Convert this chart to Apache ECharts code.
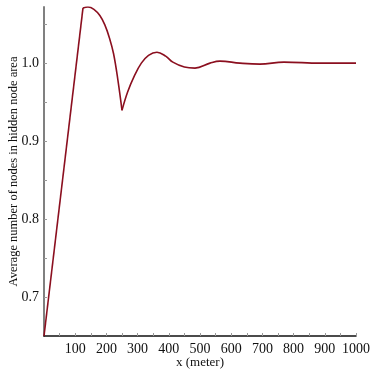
<!DOCTYPE html>
<html>
<head>
<meta charset="utf-8">
<script src="https://cdn.jsdelivr.net/npm/echarts@6/dist/echarts.min.js"></script>
<style>
  html, body { margin: 0; padding: 0; background: #fff; }
  #chart { width: 374px; height: 374px; }
</style>
</head>
<body>
<div id="chart"></div>
<script>
// x (meter), y (average number of nodes)
const risePts = [[0, 0.650], [125, 1.0708]]
const fallPts = [[125, 1.0708], [141, 1.072], [160, 1.069], [179, 1.061], [195, 1.049], [210, 1.032], [223, 1.012], [237, 0.978], [250, 0.9395]]
const tailPts = [
  [250, 0.9395], [268, 0.963], [290, 0.984], [312, 1.000], [335, 1.010], [362, 1.014],
  [390, 1.009], [413, 1.0013], [450, 0.995], [484, 0.9936], [532, 1.0], [564, 1.0026],
  [628, 1.0], [692, 0.9987], [769, 1.0013], [885, 1.0], [1000, 1.0]
]
const xLabels = [100, 200, 300, 400, 500, 600, 700, 800, 900, 1000]
const xTicks = [50, 100, 150, 200, 250, 300, 350, 400, 450, 500, 550, 600, 650, 700, 750, 800, 850, 900, 950, 1000]
const yLabels = [0.7, 0.8, 0.9, 1.0]
const yTicks = [0.7, 0.75, 0.8, 0.85, 0.9, 0.95, 1.0, 1.05]

const font = "'Liberation Serif', 'Times New Roman', serif"
const lineColor = '#8b0f1f'

const chartDom = document.getElementById('chart')
const myChart = echarts.init(chartDom)

const mkSeries = function (data, smooth) {
  return {
    type: 'line',
    data: data,
    smooth: smooth,
    showSymbol: false,
    animation: false,
    lineStyle: { color: lineColor, width: 1.6 }
  }
}

const option = {
  backgroundColor: '#fff',
  grid: { left: 44, right: 18, top: 7, bottom: 38, containLabel: false, outerBoundsMode: 'none' },
  xAxis: {
    type: 'value',
    min: 0,
    max: 1000,
    name: 'x (meter)',
    nameLocation: 'middle',
    nameGap: 20,
    nameMoveOverlap: false,
    nameTextStyle: { fontFamily: font, fontSize: 13, color: '#111' },
    axisLine: { lineStyle: { color: '#111', width: 1.5 } },
    axisTick: { show: true, inside: true, length: 3, customValues: xTicks, lineStyle: { color: '#999' } },
    axisLabel: { customValues: xLabels, fontFamily: font, fontSize: 14, color: '#111', margin: 6,
      formatter: function (v) { return String(v) } },
    splitLine: { show: false }
  },
  yAxis: {
    type: 'value',
    min: 0.65,
    max: 1.072,
    name: 'Average number of nodes in hidden node area',
    nameLocation: 'middle',
    nameGap: 24,
    nameMoveOverlap: false,
    nameTextStyle: { fontFamily: font, fontSize: 12.5, color: '#111' },
    axisLine: { show: true, lineStyle: { color: '#808080', width: 2 } },
    axisTick: { show: true, inside: true, length: 3, customValues: yTicks, lineStyle: { color: '#999' } },
    axisLabel: { customValues: yLabels, fontFamily: font, fontSize: 14, color: '#111', margin: 5,
      formatter: function (v) { return v.toFixed(1) } },
    splitLine: { show: false }
  },
  series: [
    mkSeries(risePts, false),
    mkSeries(fallPts, 0.4),
    mkSeries(tailPts, 0.4)
  ]
}
myChart.setOption(option)
</script>
</body>
</html>
